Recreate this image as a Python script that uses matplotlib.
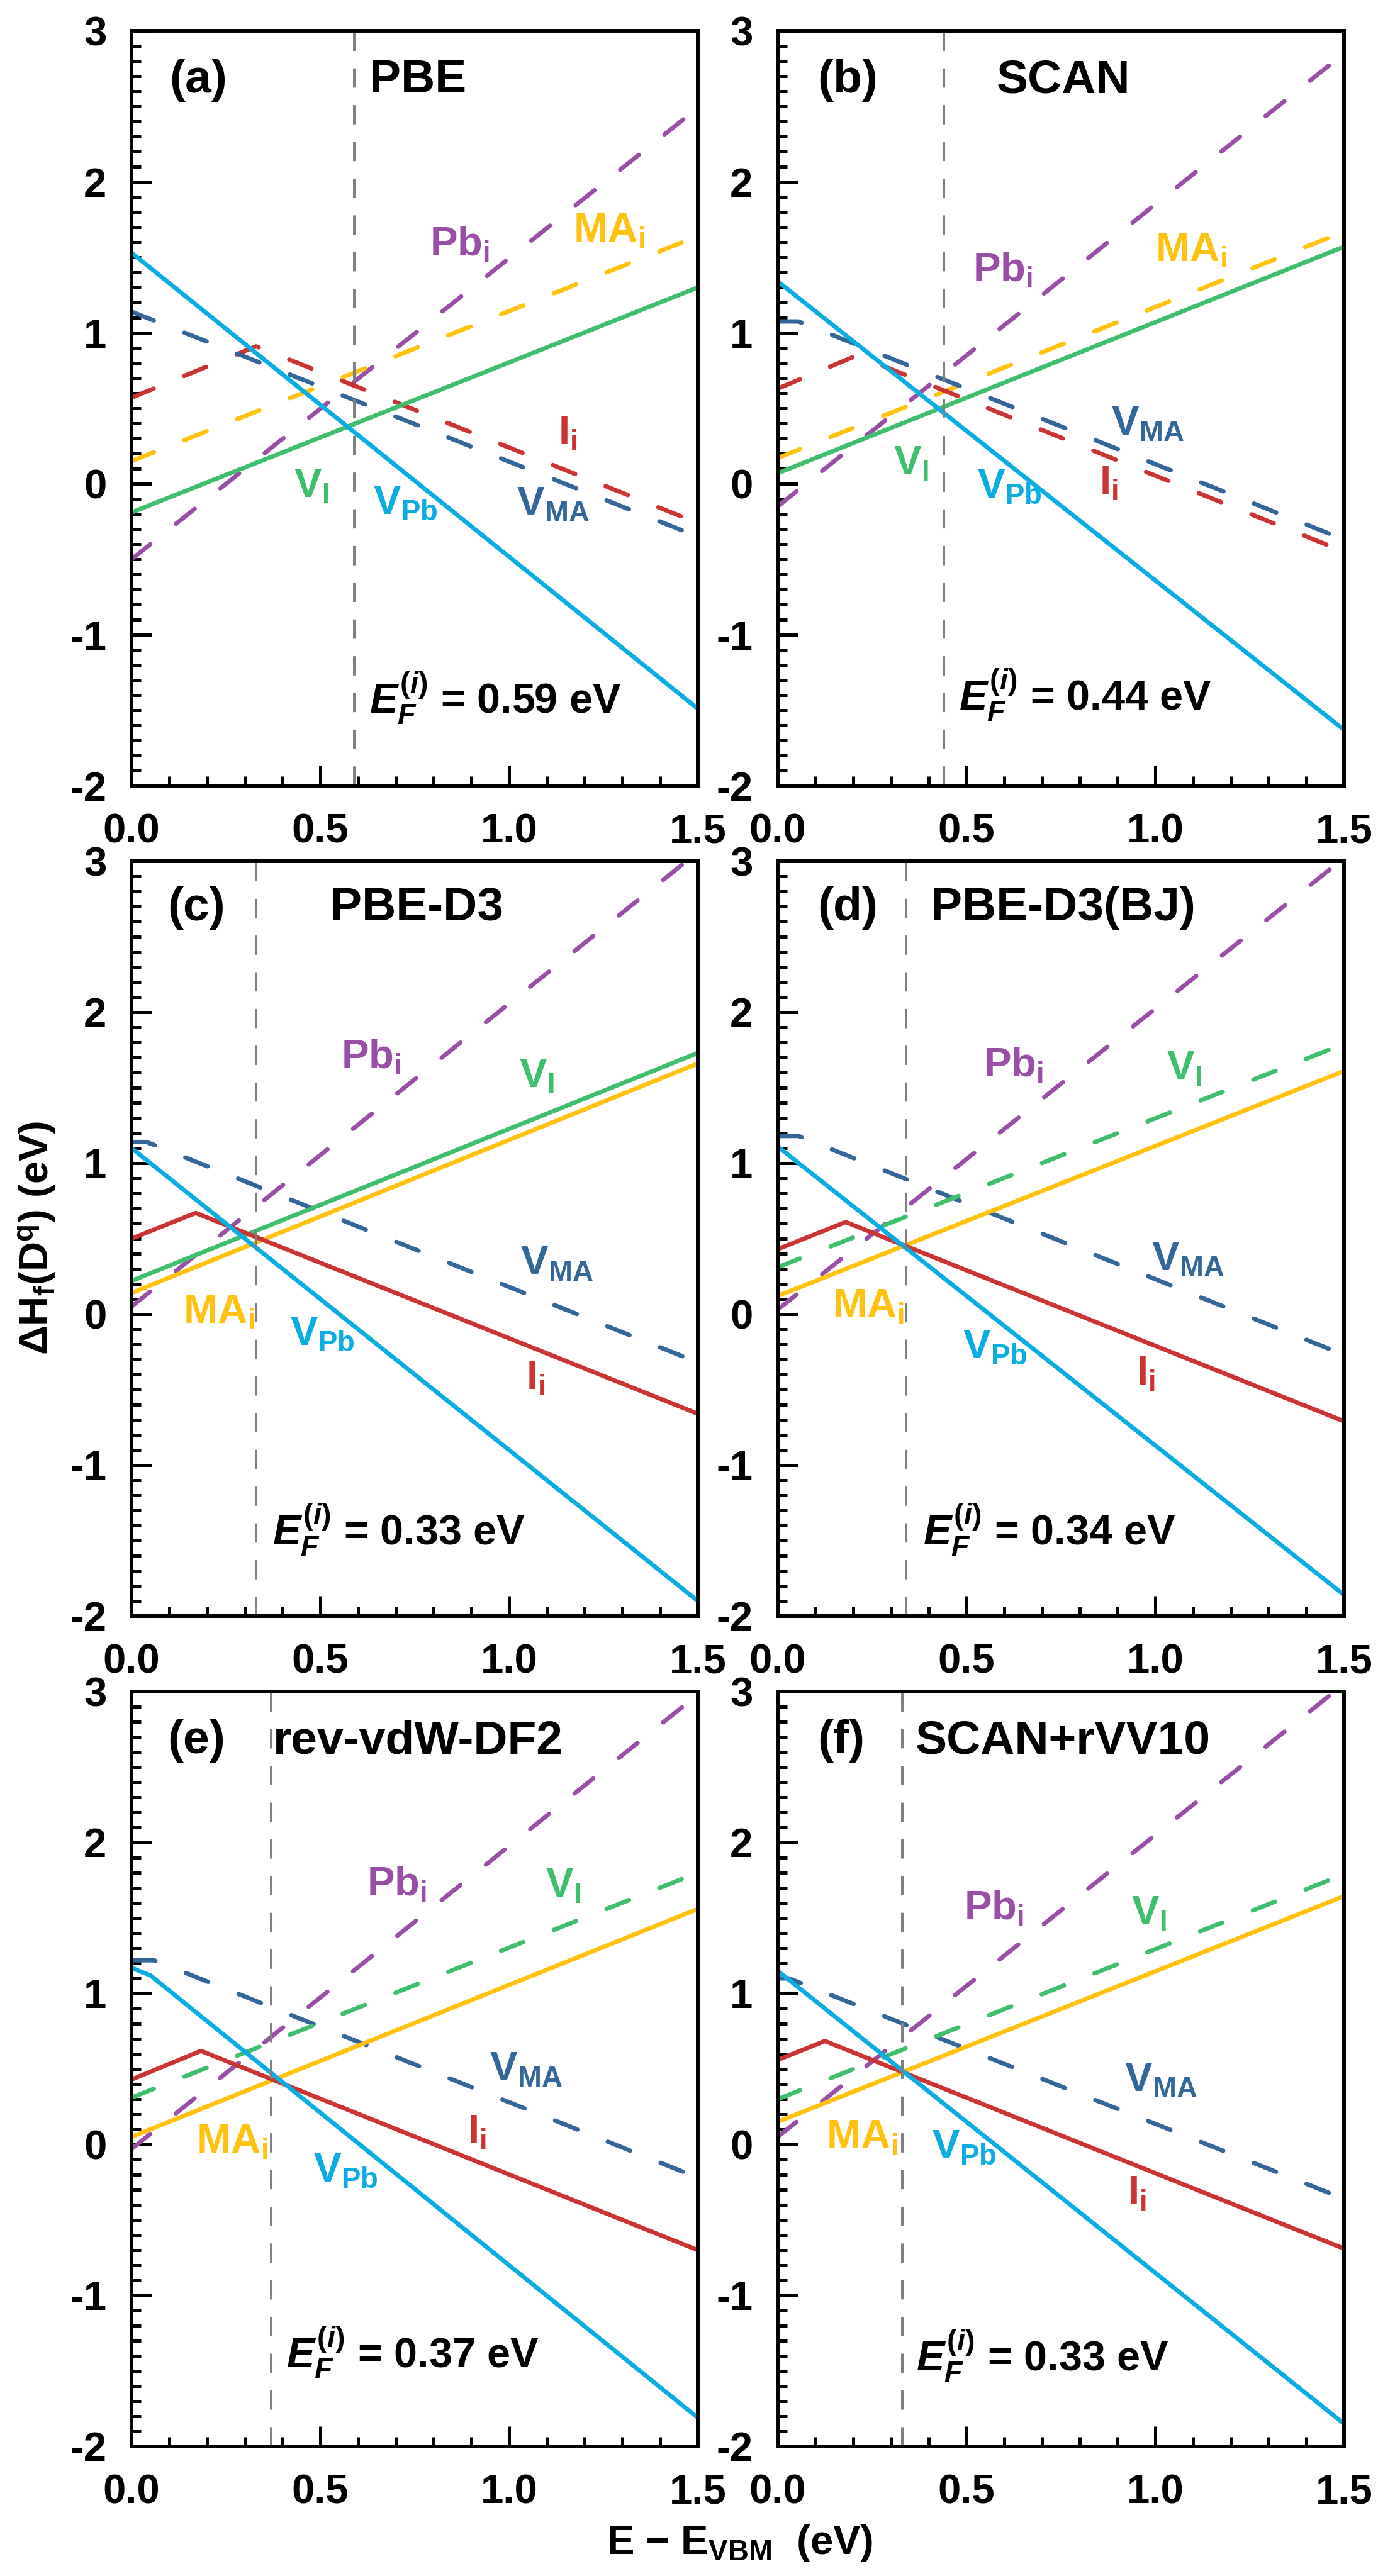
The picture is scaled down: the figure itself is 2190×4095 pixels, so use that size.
import matplotlib
matplotlib.use("Agg")
import matplotlib.pyplot as plt
from matplotlib.ticker import MultipleLocator, FormatStrFormatter

plt.rcParams['font.family'] = 'Liberation Sans'
plt.rcParams['font.weight'] = 'bold'
plt.rcParams['axes.unicode_minus'] = False
plt.rcParams['mathtext.fontset'] = 'custom'
plt.rcParams['mathtext.rm'] = 'Liberation Sans'
plt.rcParams['mathtext.bf'] = 'Liberation Sans:bold'
plt.rcParams['mathtext.it'] = 'Liberation Sans:bold:italic'

# defect formation energy lines: (E - E_VBM breakpoints, dH_f values)
pbe = {
    'Pbi': ([0, 1.5], [-0.50, 2.49]),
    'MAi': ([0, 1.5], [0.15, 1.64]),
    'Ii':  ([0, 0.33, 1.5], [0.57, 0.91, -0.26]),
    'VMA': ([0, 1.5], [1.14, -0.35]),
    'VI':  ([0, 1.5], [-0.19, 1.30]),
    'VPb': ([0, 1.5], [1.53, -1.49]),
}
scan = {
    'Pbi': ([0, 1.5], [-0.15, 2.85]),
    'MAi': ([0, 1.5], [0.17, 1.67]),
    'Ii':  ([0, 0.21, 1.5], [0.63, 0.85, -0.45]),
    'VMA': ([0, 0.055, 1.5], [1.075, 1.075, -0.37]),
    'VI':  ([0, 1.5], [0.07, 1.57]),
    'VPb': ([0, 1.5], [1.34, -1.63]),
}
pbe_d3 = {
    'Pbi': ([0, 1.5], [0.05, 3.06]),
    'VMA': ([0, 0.04, 1.5], [1.14, 1.14, -0.32]),
    'MAi': ([0, 1.5], [0.14, 1.66]),
    'VI':  ([0, 1.5], [0.22, 1.73]),
    'Ii':  ([0, 0.17, 1.5], [0.50, 0.67, -0.66]),
    'VPb': ([0, 1.5], [1.10, -1.90]),
}
pbe_d3bj = {
    'Pbi': ([0, 1.5], [0.03, 3.02]),
    'VMA': ([0, 0.055, 1.5], [1.18, 1.18, -0.27]),
    'VI':  ([0, 1.5], [0.31, 1.79]),
    'MAi': ([0, 1.5], [0.12, 1.61]),
    'Ii':  ([0, 0.18, 1.5], [0.43, 0.61, -0.71]),
    'VPb': ([0, 1.5], [1.11, -1.86]),
}
revvdw = {
    'Pbi': ([0, 1.5], [-0.03, 2.98]),
    'VMA': ([0, 0.06, 1.5], [1.22, 1.22, -0.22]),
    'VI':  ([0, 1.5], [0.31, 1.80]),
    'MAi': ([0, 1.5], [0.05, 1.56]),
    'Ii':  ([0, 0.184, 1.5], [0.43, 0.62, -0.70]),
    'VPb': ([0, 0.05, 1.5], [1.17, 1.12, -1.81]),
}
scan_rvv10 = {
    'Pbi': ([0, 1.5], [0.05, 3.05]),
    'VMA': ([0, 0.03, 1.5], [1.10, 1.10, -0.36]),
    'VI':  ([0, 1.5], [0.30, 1.79]),
    'MAi': ([0, 1.5], [0.15, 1.645]),
    'Ii':  ([0, 0.125, 1.5], [0.56, 0.685, -0.69]),
    'VPb': ([0, 1.5], [1.15, -1.85]),
}

panel_data = [pbe, scan, pbe_d3, pbe_d3bj, revvdw, scan_rvv10]
panel_letters = ['(a)', '(b)', '(c)', '(d)', '(e)', '(f)']
panel_titles = ['PBE', 'SCAN', 'PBE-D3', 'PBE-D3(BJ)', 'rev-vdW-DF2', 'SCAN+rVV10']
ef_intrinsic = [0.59, 0.44, 0.33, 0.34, 0.37, 0.33]
dashed_species = [
    ['Pbi', 'MAi', 'Ii', 'VMA'],
    ['Pbi', 'MAi', 'Ii', 'VMA'],
    ['Pbi', 'VMA'],
    ['Pbi', 'VMA', 'VI'],
    ['Pbi', 'VMA', 'VI'],
    ['Pbi', 'VMA', 'VI'],
]

colors = {
    'VPb': '#0AADE2',
    'VI':  '#3DBF6E',
    'VMA': '#336699',
    'Ii':  '#CC3333',
    'MAi': '#FFC20E',
    'Pbi': '#9A4FA6',
}
names = {
    'VPb': r'V$_\mathbf{Pb}$',
    'VI':  r'V$_\mathbf{I}$',
    'VMA': r'V$_\mathbf{MA}$',
    'Ii':  r'I$_\mathbf{i}$',
    'MAi': r'MA$_\mathbf{i}$',
    'Pbi': r'Pb$_\mathbf{i}$',
}

# label placement (left x, baseline y) per panel
label_pos = [
    {'Pbi': (0.79, 1.51), 'MAi': (1.17, 1.60), 'VI': (0.43, -0.09), 'VPb': (0.64, -0.20),
     'VMA': (1.02, -0.21), 'Ii': (1.13, 0.26)},
    {'Pbi': (0.516, 1.34), 'MAi': (1.0, 1.47), 'VI': (0.306, 0.06), 'VPb': (0.528, -0.09),
     'VMA': (0.884, 0.32), 'Ii': (0.852, -0.07)},
    {'Pbi': (0.555, 1.625), 'VI': (1.027, 1.50), 'VMA': (1.03, 0.26), 'MAi': (0.137, -0.06),
     'VPb': (0.42, -0.205), 'Ii': (1.045, -0.50)},
    {'Pbi': (0.545, 1.57), 'VI': (1.03, 1.55), 'VMA': (0.99, 0.29), 'MAi': (0.145, -0.026),
     'VPb': (0.49, -0.29), 'Ii': (0.95, -0.47)},
    {'Pbi': (0.623, 1.645), 'VI': (1.097, 1.64), 'VMA': (0.948, 0.42), 'MAi': (0.172, -0.057),
     'VPb': (0.482, -0.245), 'Ii': (0.89, 0.007)},
    {'Pbi': (0.493, 1.49), 'VI': (0.936, 1.456), 'VMA': (0.919, 0.35), 'MAi': (0.128, -0.03),
     'VPb': (0.409, -0.09), 'Ii': (0.927, -0.40)},
]
letter_pos = [(0.10, 2.59), (0.105, 2.59), (0.096, 2.61), (0.105, 2.61), (0.096, 2.59), (0.105, 2.59)]
title_pos = [(0.63, 2.59), (0.58, 2.59), (0.527, 2.61), (0.405, 2.61), (0.375, 2.59), (0.364, 2.59)]
ef_text_pos = [(0.63, -1.52), (0.48, -1.50), (0.373, -1.53), (0.385, -1.53), (0.41, -1.48), (0.367, -1.50)]

W, H = 2190, 4095
fig = plt.figure(figsize=(W / 100, H / 100), dpi=100)

col_left = [209, 1236]
row_top = [49, 1369, 2689]
pw, ph = 900, 1200

for k in range(6):
    r, c = divmod(k, 2)
    ax = fig.add_axes([col_left[c] / W, 1 - (row_top[r] + ph) / H, pw / W, ph / H])
    data = panel_data[k]
    for sp, (xs, ys) in data.items():
        if sp in dashed_species[k]:
            ax.plot(xs, ys, color=colors[sp], lw=5, dashes=(5.5, 7.5), dash_capstyle='round')
        else:
            ax.plot(xs, ys, color=colors[sp], lw=5)
    ax.axvline(ef_intrinsic[k], color='#808080', lw=2.9, dashes=(7.6, 6.9))

    for sp, (tx, ty) in label_pos[k].items():
        ax.text(tx, ty, names[sp], color=colors[sp], fontsize=47, ha='left', va='baseline')
    ax.text(*letter_pos[k], panel_letters[k], fontsize=54, ha='left', va='baseline')
    ax.text(*title_pos[k], panel_titles[k], fontsize=54, ha='left', va='baseline')
    ax.text(*ef_text_pos[k], r'$\mathit{E_F^{(i)}}$ = %.2f eV' % ef_intrinsic[k],
            fontsize=48, ha='left', va='baseline')

    ax.set_xlim(0, 1.5)
    ax.set_ylim(-2, 3)
    ax.xaxis.set_major_locator(MultipleLocator(0.5))
    ax.xaxis.set_minor_locator(MultipleLocator(0.1))
    ax.yaxis.set_major_locator(MultipleLocator(1))
    ax.yaxis.set_minor_locator(MultipleLocator(0.1))
    ax.xaxis.set_major_formatter(FormatStrFormatter('%.1f'))
    ax.yaxis.set_major_formatter(FormatStrFormatter('%d'))
    ax.tick_params(which='both', direction='in', top=False, right=False, width=3.6, labelsize=47)
    ax.tick_params(which='major', length=23)
    ax.tick_params(which='minor', length=11)
    ax.tick_params(axis='x', pad=31)
    ax.tick_params(axis='y', pad=28.5)
    for s in ax.spines.values():
        s.set_linewidth(4.3)

fig.text(78 / W, 1 - 1968 / H, r'$\Delta$H$_\mathbf{f}$(D$^\mathbf{q}$) (eV)', fontsize=47,
         rotation=90, rotation_mode='anchor', ha='center', va='baseline')
fig.text(1176 / W, 1 - 4060 / H, 'E \u2212 E$_\\mathbf{VBM}$  (eV)', fontsize=47,
         ha='center', va='baseline')

fig.savefig('out.png', dpi=100)
